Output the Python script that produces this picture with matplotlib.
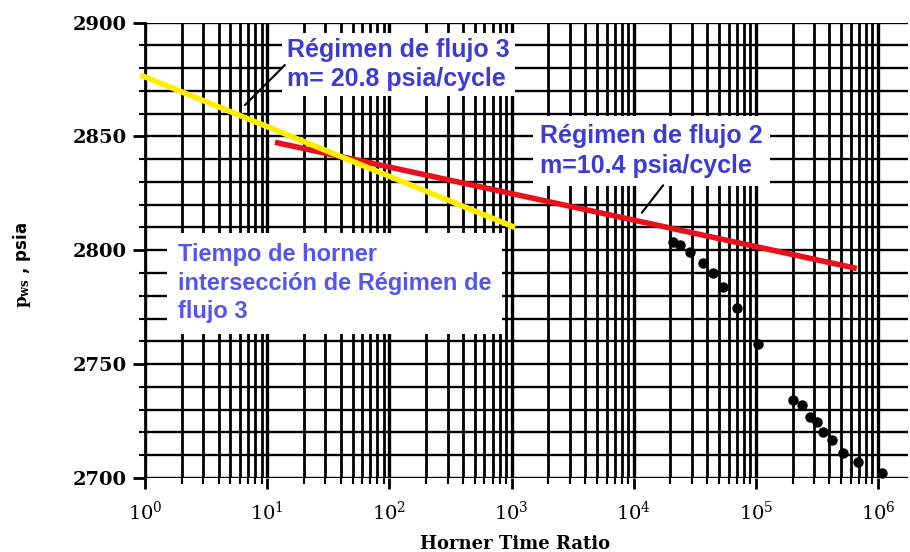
import numpy as np
import matplotlib.pyplot as plt
from matplotlib.ticker import LogLocator, MultipleLocator

plt.rcParams['axes.unicode_minus'] = False
plt.rcParams['mathtext.fontset'] = 'dejavuserif'

# Rectas de regimen de flujo (extremos)
x_reg3 = [0.91, 1070]
p_reg3 = [2877, 2810]
x_reg2 = [11.6, 6.7e5]
p_reg2 = [2847.4, 2792]

# Puntos medidos (Horner time ratio, pws)
x_pts = [2.10e4, 2.39e4, 2.89e4, 3.69e4, 4.46e4, 5.38e4, 7.01e4, 1.04e5,
         2.01e5, 2.39e5, 2.78e5, 3.17e5, 3.55e5, 4.21e5, 5.17e5, 6.86e5, 1.08e6]
p_pts = [2803.6, 2802.3, 2799.2, 2794.4, 2790.0, 2783.9, 2774.6, 2758.8,
         2734.2, 2732.0, 2726.7, 2724.5, 2720.1, 2716.6, 2710.9, 2707.0, 2702.2]

texto_reg3 = 'Régimen de flujo 3\nm= 20.8 psia/cycle'
texto_reg2 = 'Régimen de flujo 2\nm=10.4 psia/cycle'
texto_inter = 'Tiempo de horner\nintersección de Régimen de\nflujo 3'

fig = plt.figure(figsize=(9.1, 5.52), dpi=100)
ax = fig.add_axes([145/910, 1 - 478/552, (908 - 145)/910, (478 - 22.5)/552])

ax.set_xscale('log')
ax.set_xlim(1, 1.76e6)
ax.set_ylim(2700, 2900)

# Papel semilog
ax.xaxis.set_major_locator(LogLocator(base=10, numticks=10))
ax.xaxis.set_minor_locator(LogLocator(base=10, subs=np.arange(2, 10), numticks=20))
ax.yaxis.set_major_locator(MultipleLocator(50))
ax.yaxis.set_minor_locator(MultipleLocator(10))
ax.grid(True, which='major', axis='x', color='black', lw=2.4, zorder=0)
ax.grid(True, which='minor', axis='x', color='black', lw=2.0, zorder=0)
ax.grid(True, which='both', axis='y', color='black', lw=1.7, zorder=0)

for s in ['top', 'right', 'bottom']:
    ax.spines[s].set_visible(False)
ax.spines['left'].set_linewidth(2)

ax.tick_params(axis='x', which='major', direction='out', length=8, width=2, pad=8,
               labelsize=14, labelfontfamily='DejaVu Serif')
ax.tick_params(axis='x', which='minor', direction='out', length=4, width=1.5)
ax.tick_params(axis='y', which='major', direction='out', length=9, width=2, pad=4)
ax.tick_params(axis='y', which='minor', direction='out', length=4, width=1.5)
for lab in ax.get_yticklabels():
    lab.set_fontfamily('DejaVu Serif')
    lab.set_fontweight('bold')
    lab.set_fontsize(14)

ax.set_xlabel('Horner Time Ratio', fontfamily='DejaVu Serif', fontweight='bold', fontsize=13)
ax.xaxis.set_label_coords(0.485, -0.125)
ax.set_ylabel(r'$\mathbf{p_{ws}}$ , psia', fontfamily='DejaVu Sans', fontweight='bold', fontsize=12)
ax.yaxis.set_label_coords(-0.147, 0.468)

# Rectas y puntos
ax.plot(x_reg3, p_reg3, color='#ffee00', lw=4, zorder=4, clip_on=False, solid_capstyle='butt')
ax.plot(x_reg2, p_reg2, color='#e8101a', lw=4, zorder=3, solid_capstyle='butt')
ax.plot(x_pts, p_pts, 'o', color='black', ms=6.5, zorder=5, clip_on=False)

# Textos con fondo blanco
ax.text(0.186, 0.908, texto_reg3, transform=ax.transAxes, ha='left', va='center',
        fontfamily='Liberation Sans', fontweight='bold', fontsize=18, color='#3c3cd2',
        linespacing=1.25, zorder=2,
        bbox=dict(boxstyle='square,pad=0.2', facecolor='white', edgecolor='none'))
ax.text(0.518, 0.718, texto_reg2, transform=ax.transAxes, ha='left', va='center',
        fontfamily='Liberation Sans', fontweight='bold', fontsize=18, color='#3c3cd2',
        linespacing=1.35, zorder=2,
        bbox=dict(boxstyle='square,pad=0.3', facecolor='white', edgecolor='none'))
ax.text(0.043, 0.428, texto_inter, transform=ax.transAxes, ha='left', va='center',
        fontfamily='Liberation Sans', fontweight='bold', fontsize=17, color='#5555ee',
        linespacing=1.3, zorder=2,
        bbox=dict(boxstyle='square,pad=0.45', facecolor='white', edgecolor='none'))

# Lineas indicadoras
ax.annotate('', xy=(6.34, 2862.9), xytext=(14.5, 2882.2),
            arrowprops=dict(arrowstyle='-', color='black', lw=1.5), zorder=6)
ax.annotate('', xy=(1.13e4, 2815.5), xytext=(1.8e4, 2829.5),
            arrowprops=dict(arrowstyle='-', color='black', lw=1.5), zorder=6)

plt.savefig('out.png', dpi=100)
